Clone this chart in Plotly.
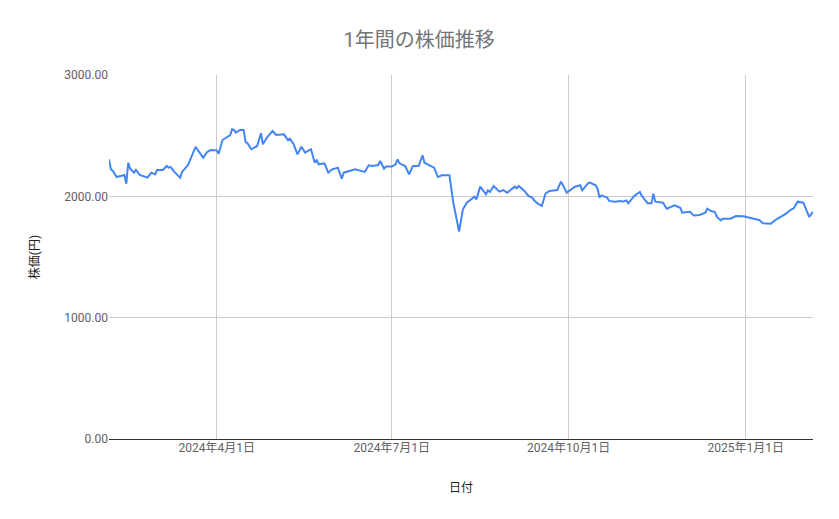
import plotly.graph_objects as go

# 日付と株価(終値) - 図から読み取った値
dates = [
    "2024-02-05", "2024-02-06", "2024-02-07", "2024-02-09", "2024-02-11", "2024-02-13",
    "2024-02-14", "2024-02-15", "2024-02-16", "2024-02-18", "2024-02-19", "2024-02-21",
    "2024-02-25", "2024-02-27", "2024-02-29", "2024-03-01", "2024-03-04", "2024-03-06",
    "2024-03-07", "2024-03-08", "2024-03-10", "2024-03-13", "2024-03-14", "2024-03-17",
    "2024-03-21", "2024-03-25", "2024-03-27", "2024-03-29", "2024-04-01", "2024-04-02",
    "2024-04-04", "2024-04-06", "2024-04-08", "2024-04-09", "2024-04-10", "2024-04-11",
    "2024-04-13", "2024-04-15", "2024-04-16", "2024-04-17", "2024-04-19", "2024-04-22",
    "2024-04-24", "2024-04-25", "2024-04-27", "2024-04-30", "2024-05-02", "2024-05-06",
    "2024-05-08", "2024-05-09", "2024-05-11", "2024-05-13", "2024-05-15", "2024-05-17",
    "2024-05-20", "2024-05-22", "2024-05-23", "2024-05-24", "2024-05-27", "2024-05-29",
    "2024-05-31", "2024-06-03", "2024-06-05", "2024-06-06", "2024-06-09", "2024-06-12",
    "2024-06-17", "2024-06-19", "2024-06-21", "2024-06-24", "2024-06-25", "2024-06-27",
    "2024-06-28", "2024-07-01", "2024-07-03", "2024-07-04", "2024-07-05", "2024-07-08",
    "2024-07-10", "2024-07-12", "2024-07-15", "2024-07-17", "2024-07-18", "2024-07-23",
    "2024-07-25", "2024-07-27", "2024-07-31", "2024-08-02", "2024-08-05", "2024-08-07",
    "2024-08-09", "2024-08-11", "2024-08-13", "2024-08-14", "2024-08-16", "2024-08-19",
    "2024-08-20", "2024-08-21", "2024-08-23", "2024-08-26", "2024-08-28", "2024-08-30",
    "2024-09-03", "2024-09-04", "2024-09-05", "2024-09-08", "2024-09-10", "2024-09-12",
    "2024-09-13", "2024-09-15", "2024-09-17", "2024-09-19", "2024-09-21", "2024-09-25",
    "2024-09-27", "2024-09-30", "2024-10-02", "2024-10-04", "2024-10-07", "2024-10-08",
    "2024-10-11", "2024-10-12", "2024-10-15", "2024-10-16", "2024-10-17", "2024-10-18",
    "2024-10-21", "2024-10-22", "2024-10-25", "2024-10-28", "2024-10-29", "2024-10-31",
    "2024-11-01", "2024-11-04", "2024-11-07", "2024-11-08", "2024-11-11", "2024-11-13",
    "2024-11-14", "2024-11-15", "2024-11-19", "2024-11-21", "2024-11-25", "2024-11-28",
    "2024-11-29", "2024-12-02", "2024-12-03", "2024-12-05", "2024-12-08", "2024-12-11",
    "2024-12-12", "2024-12-14", "2024-12-16", "2024-12-17", "2024-12-19", "2024-12-20",
    "2024-12-24", "2024-12-27", "2024-12-31", "2025-01-03", "2025-01-07", "2025-01-08",
    "2025-01-10", "2025-01-14", "2025-01-17", "2025-01-22", "2025-01-24", "2025-01-26",
    "2025-01-28", "2025-01-31", "2025-02-03", "2025-02-05",
]
prices = [
    2305, 2223, 2209, 2159, 2168, 2176,
    2104, 2277, 2228, 2195, 2217, 2176,
    2154, 2195, 2181, 2217, 2217, 2250,
    2236, 2242, 2201, 2154, 2201, 2256,
    2407, 2318, 2365, 2382, 2379, 2351,
    2464, 2483, 2505, 2552, 2547, 2525,
    2547, 2547, 2448, 2437, 2388, 2415,
    2520, 2429, 2483, 2538, 2505, 2511,
    2464, 2475, 2429, 2346, 2409, 2360,
    2388, 2277, 2297, 2264, 2272, 2195,
    2223, 2236, 2145, 2195, 2209, 2223,
    2201, 2256, 2250, 2258, 2291, 2228,
    2245, 2245, 2264, 2305, 2272, 2250,
    2181, 2250, 2250, 2338, 2277, 2236,
    2159, 2173, 2173, 1948, 1710, 1893,
    1948, 1975, 1997, 1975, 2080, 2017,
    2050, 2036, 2085, 2039, 2052, 2030,
    2080, 2066, 2085, 2044, 2003, 1989,
    1967, 1939, 1920, 2025, 2044, 2052,
    2121, 2030, 2050, 2077, 2091, 2050,
    2107, 2113, 2091, 2063, 1989, 2008,
    1989, 1962, 1956, 1962, 1956, 1967,
    1942, 2003, 2036, 2003, 1942, 1942,
    2022, 1956, 1948, 1898, 1926, 1906,
    1865, 1871, 1873, 1843, 1846, 1865,
    1898, 1879, 1871, 1832, 1802, 1816,
    1816, 1838, 1835, 1824, 1811, 1805,
    1778, 1775, 1811, 1857, 1885, 1901,
    1956, 1948, 1830, 1873,
]

x_tick_dates = ["2024-04-01", "2024-07-01", "2024-10-01", "2025-01-01"]
x_tick_labels = ["2024年4月1日", "2024年7月1日", "2024年10月1日", "2025年1月1日"]
y_ticks = [0, 1000, 2000, 3000]

fig = go.Figure()

fig.add_trace(go.Scatter(
    x=dates,
    y=prices,
    mode="lines",
    line=dict(color="#4285F4", width=2),
    name="株価",
))

# ページ本体の余白を見込んで余白を調整
fig.update_layout(
    title=dict(
        text="1年間の株価推移",
        x=0.49, xanchor="center",
        y=0.938, yanchor="middle",
        font=dict(family="Roboto, 'Noto Sans CJK JP'", size=20, color="#757575"),
    ),
    width=839,
    height=519,
    margin=dict(l=101, r=34, t=67, b=88),
    paper_bgcolor="white",
    plot_bgcolor="white",
    showlegend=False,
    font=dict(family="Roboto, 'Noto Sans CJK JP'", size=12, color="#616161"),
)

fig.update_xaxes(
    range=[dates[0], dates[-1]],
    tickvals=x_tick_dates,
    ticktext=x_tick_labels,
    showgrid=True,
    gridcolor="#cccccc",
    gridwidth=1,
    showline=False,
    zeroline=False,
    ticks="",
    tickfont=dict(size=12, color="#616161"),
    title=dict(text="日付", font=dict(size=12, color="#222222"), standoff=29),
)

fig.update_yaxes(
    range=[0, 3000],
    tickvals=y_ticks,
    tickformat=".2f",
    showgrid=True,
    gridcolor="#cccccc",
    gridwidth=1,
    zeroline=True,
    zerolinecolor="#333333",
    zerolinewidth=1,
    showline=False,
    ticks="",
    tickfont=dict(size=12, color="#616161"),
    title=dict(text="株価(円)", font=dict(size=12, color="#222222"), standoff=22),
)

fig.write_html("out.html")
